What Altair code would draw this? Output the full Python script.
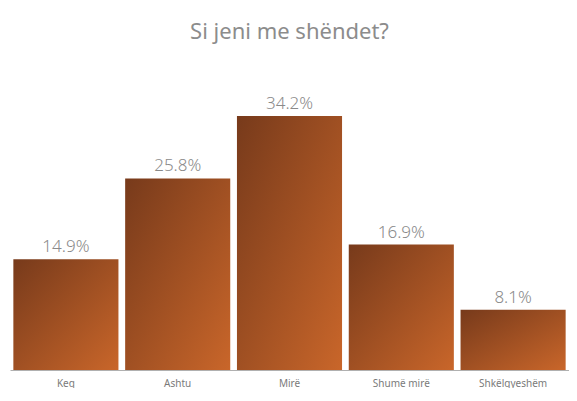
import altair as alt
import pandas as pd

categories = ["Keq", "Ashtu", "Mirë", "Shumë mirë", "Shkëlqyeshëm"]
values = [14.9, 25.8, 34.2, 16.9, 8.1]
labels = ["14.9%", "25.8%", "34.2%", "16.9%", "8.1%"]

df = pd.DataFrame({"cat": categories, "val": values, "lab": labels})

grad = alt.Gradient(
    gradient="linear",
    x1=0, y1=0, x2=1, y2=1,
    stops=[alt.GradientStop(color="#773a1b", offset=0),
           alt.GradientStop(color="#c9662a", offset=1)],
)

x = alt.X("cat:N", sort=categories, title=None,
          scale=alt.Scale(paddingInner=0.06, paddingOuter=0.03),
          axis=alt.Axis(labelAngle=0, ticks=False, domainColor="#b0b0b0",
                        labelColor="#7a7a7a", labelFontSize=10, labelPadding=8,
                        labelFont="Noto Sans"))
y = alt.Y("val:Q", title=None, scale=alt.Scale(domain=[0, 40]), axis=None)

bars = alt.Chart(df).mark_bar(color=grad).encode(x=x, y=y)
text = alt.Chart(df).mark_text(dy=-12, fontSize=17, color="#8a8a8a",
                               font="Noto Sans", fontWeight=300).encode(
    x=alt.X("cat:N", sort=categories), y="val:Q", text="lab:N")

chart = (bars + text).properties(
    width=559, height=297,
    padding={"left": 2, "right": 0, "top": 13, "bottom": 0},
    title=alt.TitleParams("Si jeni me shëndet?", fontSize=22, color="#8c8c8c",
                          font="Noto Sans", fontWeight="normal", anchor="middle",
                          offset=29),
).configure_view(stroke=None)

chart.save("out.html", embed_options={"renderer": "svg", "actions": False})
